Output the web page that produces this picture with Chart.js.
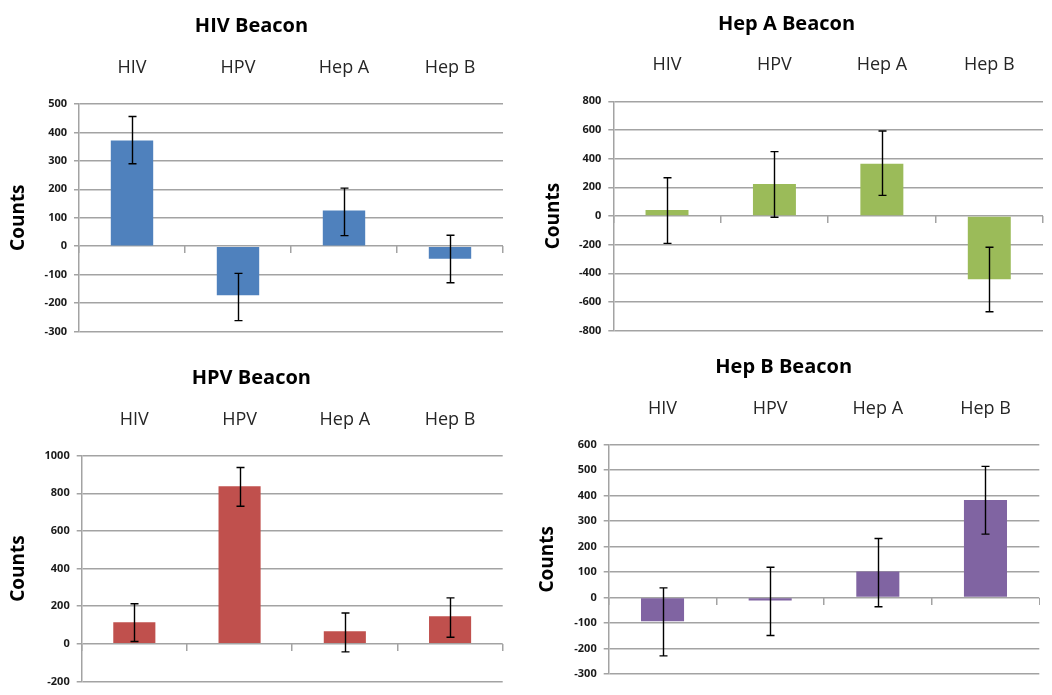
<!DOCTYPE html>
<html>
<head>
<meta charset="utf-8">
<title>Beacon counts</title>
<script src="https://cdn.jsdelivr.net/npm/chart.js@4.4.1/dist/chart.umd.min.js"></script>
<style>
  html, body { margin: 0; padding: 0; background: #ffffff; }
  #page { position: relative; width: 1052px; height: 695px; overflow: hidden; background: #ffffff; }
  .panel { position: absolute; }
</style>
</head>
<body>
<div id="page">
  <div class="panel" id="p1" style="left:0px;top:0px;width:505px;height:345px"><canvas id="c1"></canvas></div>
  <div class="panel" id="p2" style="left:530px;top:0px;width:518px;height:345px"><canvas id="c2"></canvas></div>
  <div class="panel" id="p3" style="left:0px;top:345px;width:504px;height:350px"><canvas id="c3"></canvas></div>
  <div class="panel" id="p4" style="left:528px;top:345px;width:512px;height:350px"><canvas id="c4"></canvas></div>
</div>
<script>
// Probe categories shared by every beacon
const categories = ['HIV', 'HPV', 'Hep A', 'Hep B'];

// HIV beacon: mean counts and error-bar limits
const hivBeaconValues = [372, -173, 125, -44];
const hivBeaconLow    = [290, -262, 37, -129];
const hivBeaconHigh   = [456, -96, 204, 38];
const hivBeaconTicks  = [-300, 500, 100]; // min, max, step

// Hep A beacon
const hepABeaconValues = [42, 223, 365, -442];
const hepABeaconLow    = [-191, -9, 144, -668];
const hepABeaconHigh   = [267, 449, 593, -218];
const hepABeaconTicks  = [-800, 800, 200];

// HPV beacon
const hpvBeaconValues = [115, 837, 66, 147];
const hpvBeaconLow    = [12, 731, -43, 35];
const hpvBeaconHigh   = [213, 937, 164, 244];
const hpvBeaconTicks  = [-200, 1000, 200];

// Hep B beacon
const hepBBeaconValues = [-93, -12, 102, 383];
const hepBBeaconLow    = [-229, -149, -36, 249];
const hepBBeaconHigh   = [38, 119, 232, 515];
const hepBBeaconTicks  = [-300, 600, 100];

Chart.defaults.font.family = "'Open Sans', 'DejaVu Sans', sans-serif";
Chart.defaults.animation = false;

const GRID = '#a3a3a3';

// Vertical error bars drawn from each bar's centre through the value scale
const errorBars = {
  id: 'errorBars',
  afterDatasetsDraw(chart, args, opts) {
    const ctx = chart.ctx;
    const yScale = chart.scales.y;
    const meta = chart.getDatasetMeta(0);
    const cap = opts.cap;
    ctx.save();
    ctx.strokeStyle = opts.color;
    ctx.lineWidth = opts.width;
    meta.data.forEach((bar, i) => {
      const yTop = yScale.getPixelForValue(opts.high[i]);
      const yBot = yScale.getPixelForValue(opts.low[i]);
      const x = Math.round(bar.x) + 0.5;
      ctx.beginPath();
      ctx.moveTo(x, yTop); ctx.lineTo(x, yBot);
      ctx.moveTo(x - cap, yTop); ctx.lineTo(x + cap, yTop);
      ctx.moveTo(x - cap, yBot); ctx.lineTo(x + cap, yBot);
      ctx.stroke();
    });
    ctx.restore();
  }
};

function beaconChart(canvasId, cfg) {
  const w = cfg.width, h = cfg.height, p = cfg.plot;
  const titleFont = 20, titleLH = 1.2;
  const titleTop = cfg.titleY - titleFont * titleLH / 2;
  const titleBottom = titleTop + titleFont * titleLH;
  const catFont = 18;
  const countsFont = 19;

  return new Chart(document.getElementById(canvasId), {
    type: 'bar',
    data: {
      labels: categories,
      datasets: [{
        data: cfg.values,
        backgroundColor: cfg.color,
        borderWidth: 0,
        barPercentage: 0.4,
        categoryPercentage: 1.0
      }]
    },
    options: {
      responsive: true,
      maintainAspectRatio: false,
      layout: { padding: { left: 0, top: 0, right: w - p.r, bottom: h - p.b } },
      plugins: {
        legend: { display: false },
        tooltip: { enabled: false },
        title: {
          display: true,
          text: cfg.title,
          color: '#000000',
          font: { size: titleFont, weight: 'bold', lineHeight: titleLH },
          padding: { top: titleTop, bottom: 0 }
        },
        errorBars: { low: cfg.low, high: cfg.high, color: '#000000', width: 1.4, cap: 4 }
      },
      scales: {
        x: {
          position: 'top',
          offset: true,
          grid: { display: false, drawTicks: false },
          border: { display: false },
          ticks: {
            color: '#262626',
            font: { size: catFont, lineHeight: 1.2 },
            padding: p.t - cfg.labelY - catFont * 1.2 / 2,
            maxRotation: 0
          },
          afterFit(scale) { scale.height = p.t - titleBottom; }
        },
        xz: {
          type: 'category',
          position: { y: 0 },
          offset: true,
          grid: { offset: true, drawOnChartArea: false, drawTicks: true, tickLength: 7, color: GRID, lineWidth: 1.5 },
          border: { display: false },
          ticks: { display: false }
        },
        y: {
          position: 'left',
          min: cfg.ticks[0],
          max: cfg.ticks[1],
          ticks: {
            stepSize: cfg.ticks[2],
            color: '#1a1a1a',
            font: { size: 11, weight: 'bold' },
            padding: 7,
            callback: (v) => String(v)
          },
          grid: { color: GRID, lineWidth: 1.5, tickLength: 5, drawTicks: true },
          border: { display: true, color: GRID, width: 1.5 },
          title: {
            display: true,
            text: 'Counts',
            color: '#000000',
            font: { size: countsFont, weight: 'bold', lineHeight: 1.2 },
            padding: { top: cfg.countsX - countsFont * 0.6, bottom: 0 }
          },
          afterFit(scale) { scale.width = p.l; }
        }
      }
    },
    plugins: [errorBars]
  });
}

beaconChart('c1', {
  title: 'HIV Beacon', color: '#4F81BD',
  values: hivBeaconValues, low: hivBeaconLow, high: hivBeaconHigh, ticks: hivBeaconTicks,
  width: 505, height: 345, titleY: 26, labelY: 68, countsX: 19,
  plot: { l: 79, t: 104, r: 503, b: 333 }
});
beaconChart('c2', {
  title: 'Hep A Beacon', color: '#9BBB59',
  values: hepABeaconValues, low: hepABeaconLow, high: hepABeaconHigh, ticks: hepABeaconTicks,
  width: 518, height: 345, titleY: 24, labelY: 65, countsX: 23.5,
  plot: { l: 83.3, t: 101.3, r: 513, b: 330.7 }
});
beaconChart('c3', {
  title: 'HPV Beacon', color: '#C0504D',
  values: hpvBeaconValues, low: hpvBeaconLow, high: hpvBeaconHigh, ticks: hpvBeaconTicks,
  width: 504, height: 350, titleY: 33, labelY: 75, countsX: 19,
  plot: { l: 81.7, t: 110.7, r: 502.7, b: 340 }
});
beaconChart('c4', {
  title: 'Hep B Beacon', color: '#8064A2',
  values: hepBBeaconValues, low: hepBBeaconLow, high: hepBBeaconHigh, ticks: hepBBeaconTicks,
  width: 512, height: 350, titleY: 22, labelY: 64, countsX: 19.7,
  plot: { l: 80.7, t: 99.7, r: 511.3, b: 329 }
});
</script>
</body>
</html>
